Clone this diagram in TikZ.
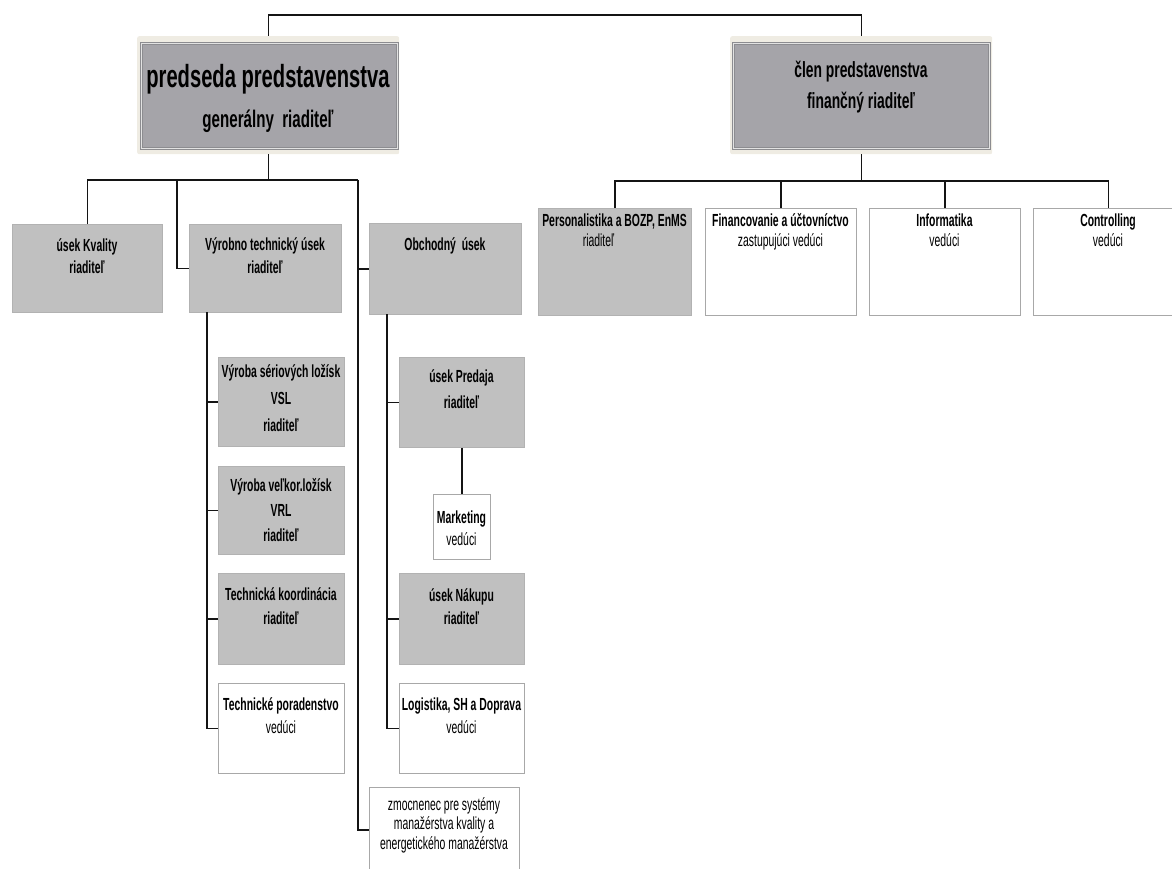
\documentclass[tikz,border=0pt]{standalone}
\usepackage{fontspec}
\setmainfont{Liberation Sans}[FakeStretch=0.595]
\newfontfamily\titlefont{Liberation Sans}[FakeStretch=0.63]
\definecolor{boxgray}{HTML}{C0C0C0}
\definecolor{boxedge}{HTML}{B2B2B2}
\definecolor{wedge}{HTML}{A8A8A8}
\definecolor{beige}{HTML}{EFECE3}
\definecolor{topgray}{HTML}{A5A4A9}
\definecolor{topedge}{HTML}{8C8C90}
\definecolor{toplight}{HTML}{E2E2E2}
\definecolor{linecol}{HTML}{141414}
\tikzset{
  conn/.style={draw=linecol, line width=1.4pt},
  gbox/.style={rectangle, fill=boxgray, draw=boxedge, line width=0.8pt, inner sep=0, anchor=north west},
  wbox/.style={rectangle, fill=white, draw=wedge, line width=0.8pt, inner sep=0, anchor=north west},
  framebox/.style={rectangle, fill=beige, draw=none, rounded corners=2pt, inner sep=0, anchor=north west},
  topbox/.style={rectangle, fill=topgray, draw=topedge, double=toplight, double distance=1.4pt, line width=0.7pt, inner sep=0, anchor=north west},
}
\newcommand\bx[6]{\node[#2, minimum width={#5-#3}, minimum height={#6-#4}] (#1) at (#3,#4) {};}
\newcommand\tx[6]{\node[anchor=base, inner sep=0, text=black] (#1) at (#2,#3) {\fontsize{#4}{#5}\selectfont\begin{tabular}[t]{@{}c@{}}#6\end{tabular}};}
\begin{document}
\begin{tikzpicture}[x=1pt, y=-1pt]
\useasboundingbox (0,0) rectangle (1172,869);
\clip (0,0) rectangle (1172,869);
% top boxes
\bx{tlo}{framebox}{137}{36}{399}{154}
\bx{tli}{topbox}{141}{43}{397}{148}
\bx{tro}{framebox}{730}{36}{992}{154}
\bx{tri}{topbox}{733}{43}{989}{148}
\tx{tlt}{268}{88}{32}{40}{\titlefont\textbf{predseda predstavenstva}\\\titlefont\fontsize{24}{30}\selectfont\textbf{generálny\ \ riaditeľ}}
\tx{trt}{861}{78}{22}{31}{\titlefont\textbf{člen predstavenstva}\\\titlefont\textbf{finančný riaditeľ}}
% level 2 left
\bx{kval}{gbox}{12}{224}{162}{312}
\tx{kvalt}{87}{251}{17.5}{22}{\textbf{úsek Kvality}\\\textbf{riaditeľ}}
\bx{vyr}{gbox}{189}{224}{341}{312}
\tx{vyrt}{265}{250}{17.5}{23}{\textbf{Výrobno technický úsek}\\\textbf{riaditeľ}}
\bx{obch}{gbox}{369}{223}{521}{314}
\tx{obcht}{445}{250}{17.5}{23}{\textbf{Obchodný\ \ úsek}}
% level 2 right
\bx{pers}{gbox}{538}{208}{691}{315}
\tx{perst}{614.5}{226}{17.5}{20}{\textbf{Personalistika a BOZP, EnMS}\\riaditeľ\hspace*{32pt}}
\bx{fin}{wbox}{705}{208}{856}{315}
\tx{fint}{780.5}{226}{17.5}{20}{\textbf{Financovanie a účtovníctvo}\\zastupujúci vedúci}
\bx{inf}{wbox}{869}{208}{1020}{315}
\tx{inft}{944.5}{226}{17.5}{20}{\textbf{Informatika}\\vedúci}
\bx{ctrl}{wbox}{1033}{208}{1183}{315}
\tx{ctrlt}{1108}{226}{17.5}{20}{\textbf{Controlling}\\vedúci}
% Vyrobno sub
\bx{vsl}{gbox}{218}{357}{344}{446}
\tx{vslt}{281}{377}{17.5}{27}{\textbf{Výroba sériových ložísk}\\\textbf{VSL}\\\textbf{riaditeľ}}
\bx{vrl}{gbox}{218}{466}{344}{554}
\tx{vrlt}{281}{491}{17.5}{25}{\textbf{Výroba veľkor.ložísk}\\\textbf{VRL}\\\textbf{riaditeľ}}
\bx{tk}{gbox}{218}{573}{344}{664}
\tx{tkt}{281}{600}{17.5}{24}{\textbf{Technická koordinácia}\\\textbf{riaditeľ}}
\bx{tp}{wbox}{218}{683}{344}{773}
\tx{tpt}{281}{710}{17.5}{23}{\textbf{Technické poradenstvo}\\vedúci}
% Obchodny sub
\bx{pred}{gbox}{399}{357}{524}{447}
\tx{predt}{461.5}{382}{17.5}{26}{\textbf{úsek Predaja}\\\textbf{riaditeľ}}
\bx{mkt}{wbox}{433}{494}{490}{559}
\tx{mktt}{461.5}{523}{17.5}{22}{\textbf{Marketing}\\vedúci}
\bx{nak}{gbox}{399}{573}{524}{664}
\tx{nakt}{461.5}{601}{17.5}{23}{\textbf{úsek Nákupu}\\\textbf{riaditeľ}}
\bx{log}{wbox}{399}{683}{524}{773}
\tx{logt}{461.5}{710}{17.5}{23}{\textbf{Logistika, SH a Doprava}\\vedúci}
\bx{zmoc}{wbox}{369}{787}{519}{900}
\tx{zmoct}{444}{810}{17.5}{19.5}{zmocnenec pre systémy\\manažérstva kvality a\\energetického manažérstva}
% connectors
\coordinate (topbar) at (0,15);
\coordinate (v2) at (177,180);
\coordinate (v3) at (358,180);
\coordinate (zin) at (369,830);
\coordinate (vtop) at (207,312);
\coordinate (otop) at (387,314);
\coordinate (rb) at (0,181);
\draw[conn] (tlo.north) -- (tlo.north |- topbar) -| (tro.north);
\draw[conn] (tlo.south) -- (tlo.south |- v2);
\draw[conn] (kval.north) |- (v3);
\draw[conn] (v2) |- (vyr.west);
\draw[conn] (v3) |- (zin);
\draw[conn] (v3 |- obch.west) -- (obch.west);
\draw[conn] (vtop) |- (tp.west);
\draw[conn] (vtop |- vsl.west) -- (vsl.west);
\draw[conn] (vtop |- vrl.west) -- (vrl.west);
\draw[conn] (vtop |- tk.west) -- (tk.west);
\draw[conn] (otop) |- (log.west);
\draw[conn] (otop |- pred.west) -- (pred.west);
\draw[conn] (otop |- nak.west) -- (nak.west);
\draw[conn] (pred.south) -- (mkt.north);
\draw[conn] (tro.south) -- (tro.south |- rb);
\draw[conn] (pers.north) |- (ctrl.north |- rb) -- (ctrl.north);
\draw[conn] (fin.north) -- (fin.north |- rb);
\draw[conn] (inf.north) -- (inf.north |- rb);
\end{tikzpicture}
\end{document}
